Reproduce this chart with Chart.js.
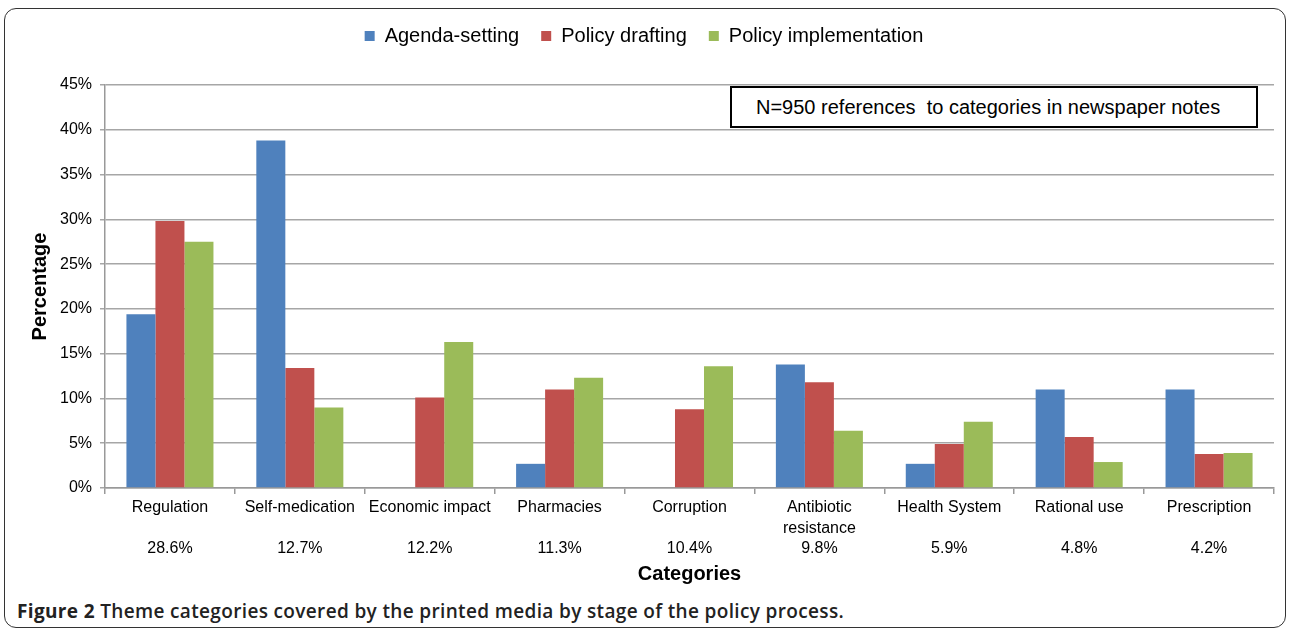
<!DOCTYPE html>
<html>
<head>
<meta charset="utf-8">
<script src="https://cdn.jsdelivr.net/npm/chart.js@4/dist/chart.umd.min.js"></script>
<style>
  body { margin: 0; background: #fff; width: 1290px; height: 630px; overflow: hidden; position: relative; }
  #frame { position: absolute; left: 4px; top: 8px; width: 1280px; height: 618px; border: 1.5px solid #333; border-radius: 12px; }
  #wrap { position: absolute; left: 0; top: 0; width: 1290px; height: 590px; }
  #note { position: absolute; left: 730px; top: 86px; width: 524px; height: 38px; border: 2px solid #000; background: #fff;
          font: 20px "Liberation Sans", Arial, sans-serif; line-height: 38px; }
  #note span { position: absolute; left: 24px; white-space: pre; }
  #caption { position: absolute; left: 17px; top: 598px; font: 600 19px "Open Sans", sans-serif; color: #222; white-space: nowrap; letter-spacing: 0.35px; }
  #caption b { font-weight: 700; }
</style>
</head>
<body>
<div id="frame"></div>
<div id="wrap"><canvas id="chart"></canvas></div>
<div id="note"><span>N=950 references  to categories in newspaper notes</span></div>
<div id="caption"><b>Figure 2</b> Theme categories covered by the printed media by stage of the policy process.</div>
<script>
// Categories and their share of all references
const categories = [["Regulation"], ["Self-medication"], ["Economic impact"], ["Pharmacies"], ["Corruption"],
  ["Antibiotic", "resistance"], ["Health System"], ["Rational use"], ["Prescription"]];
const shares = ["28.6%", "12.7%", "12.2%", "11.3%", "10.4%", "9.8%", "5.9%", "4.8%", "4.2%"];

// Percentage per stage of the policy process
const agendaSetting = [19.4, 38.8, 0, 2.7, 0, 13.8, 2.7, 11.0, 11.0];
const policyDrafting = [29.8, 13.4, 10.1, 11.0, 8.8, 11.8, 4.9, 5.7, 3.8];
const policyImplementation = [27.5, 9.0, 16.3, 12.3, 13.6, 6.4, 7.4, 2.9, 3.9];

const yTicks = [0, 5, 10, 15, 20, 25, 30, 35, 40, 45];

// tick label = name (padded to two lines) + share
const labels = categories.map((c, i) => {
  const lines = c.slice();
  while (lines.length < 2) lines.push("");
  return [...lines, shares[i]];
});

const font = '"Liberation Sans", Arial, sans-serif';

// leave room under the legend
const legendSpace = {
  id: 'legendSpace',
  beforeInit(chart) {
    const fit = chart.legend.fit;
    chart.legend.fit = function () {
      fit.call(this);
      this.height += 29;
    };
  }
};

new Chart(document.getElementById('chart').getContext('2d'), {
  type: 'bar',
  data: {
    labels,
    datasets: [
      { label: 'Agenda-setting', data: agendaSetting, backgroundColor: '#4F81BD' },
      { label: 'Policy drafting', data: policyDrafting, backgroundColor: '#C0504D' },
      { label: 'Policy implementation', data: policyImplementation, backgroundColor: '#9BBB59' }
    ]
  },
  plugins: [legendSpace],
  options: {
    responsive: true,
    maintainAspectRatio: false,
    animation: false,
    layout: { padding: { left: 14, right: 16, top: 4, bottom: 0 } },
    datasets: { bar: { barPercentage: 1.0, categoryPercentage: 0.67 } },
    plugins: {
      tooltip: { enabled: false },
      legend: {
        position: 'top',
        labels: { font: { family: font, size: 20 }, color: '#000', boxWidth: 10, boxHeight: 10, padding: 22 }
      }
    },
    scales: {
      x: {
        afterFit: s => { s.height = 102; },
        grid: { drawOnChartArea: false, offset: true, color: '#999', tickLength: 6, lineWidth: 1.5 },
        border: { color: '#999', width: 1.5 },
        ticks: { maxRotation: 0, autoSkip: false, color: '#000', padding: 3,
                 font: { family: font, size: 16, lineHeight: 1.3 } },
        title: { display: true, text: 'Categories', color: '#000', padding: { top: 0, bottom: 4 },
                 font: { family: font, size: 20, weight: 'bold' } }
      },
      y: {
        min: 0, max: 45,
        afterFit: s => { s.width = 91; },
        afterBuildTicks: s => { s.ticks = yTicks.map(v => ({ value: v })); },
        grid: { color: '#a6a6a6', lineWidth: 1.5, tickLength: 5 },
        border: { color: '#999', width: 1.5 },
        ticks: { color: '#000', padding: 8, font: { family: font, size: 16 }, callback: v => v + '%' },
        title: { display: true, text: 'Percentage', color: '#000', padding: { top: 14, bottom: 0 },
                 font: { family: font, size: 20, weight: 'bold' } }
      }
    }
  }
});
</script>
</body>
</html>
